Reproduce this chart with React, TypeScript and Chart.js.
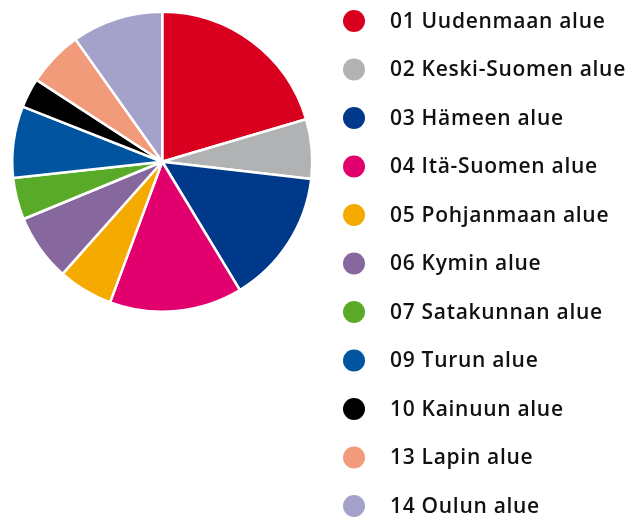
import React, { useEffect, useRef } from "react";
import { Chart, registerables } from "chart.js";

Chart.register(...registerables);

const categories = [
  "01 Uudenmaan alue",
  "02 Keski-Suomen alue",
  "03 Hämeen alue",
  "04 Itä-Suomen alue",
  "05 Pohjanmaan alue",
  "06 Kymin alue",
  "07 Satakunnan alue",
  "09 Turun alue",
  "10 Kainuun alue",
  "13 Lapin alue",
  "14 Oulun alue",
];

const shares = [20.4, 6.4, 14.5, 14.3, 5.9, 7.2, 4.5, 7.7, 3.2, 6.0, 9.8];

const colors = [
  "#D9001F",
  "#B1B2B4",
  "#00388A",
  "#E2006E",
  "#F5AA00",
  "#87689E",
  "#5AAA2A",
  "#0054A0",
  "#000000",
  "#F29B7B",
  "#A4A2CA",
];

const legendPlugin = {
  id: "customLegend",
  afterDraw(chart: any) {
    const ctx = chart.ctx;
    const labels = chart.data.labels as string[];
    const bg = chart.data.datasets[0].backgroundColor as string[];
    ctx.save();
    ctx.font = '600 21px "Open Sans"';
    (ctx as any).letterSpacing = "0.7px";
    ctx.textBaseline = "middle";
    ctx.textAlign = "left";
    labels.forEach((label, i) => {
      const y = 21 + 48.5 * i;
      ctx.beginPath();
      ctx.arc(354, y, 11, 0, Math.PI * 2);
      ctx.fillStyle = bg[i];
      ctx.fill();
      ctx.fillStyle = "#111111";
      ctx.fillText(label, 390, y + 1);
    });
    ctx.restore();
  },
};

export default function App() {
  const ref = useRef<HTMLCanvasElement | null>(null);
  useEffect(() => {
    if (!ref.current) return;
    const chart = new Chart(ref.current, {
      type: "pie",
      data: {
        labels: categories,
        datasets: [
          {
            data: shares,
            backgroundColor: colors,
            borderColor: "#ffffff",
            borderWidth: 2.5,
          },
        ],
      },
      options: {
        animation: false,
        responsive: false,
        maintainAspectRatio: false,
        layout: { padding: { left: 11, top: 10.5, right: 321.5, bottom: 204 } },
        plugins: {
          legend: { display: false },
          tooltip: { enabled: false },
        },
      },
      plugins: [legendPlugin],
    });
    return () => chart.destroy();
  }, []);
  return (
    <div style={{ position: "fixed", left: 0, top: 0, width: 635, height: 517, background: "#fff" }}>
      <canvas ref={ref} width={635} height={517} style={{ width: 635, height: 517, display: "block" }} />
    </div>
  );
}
